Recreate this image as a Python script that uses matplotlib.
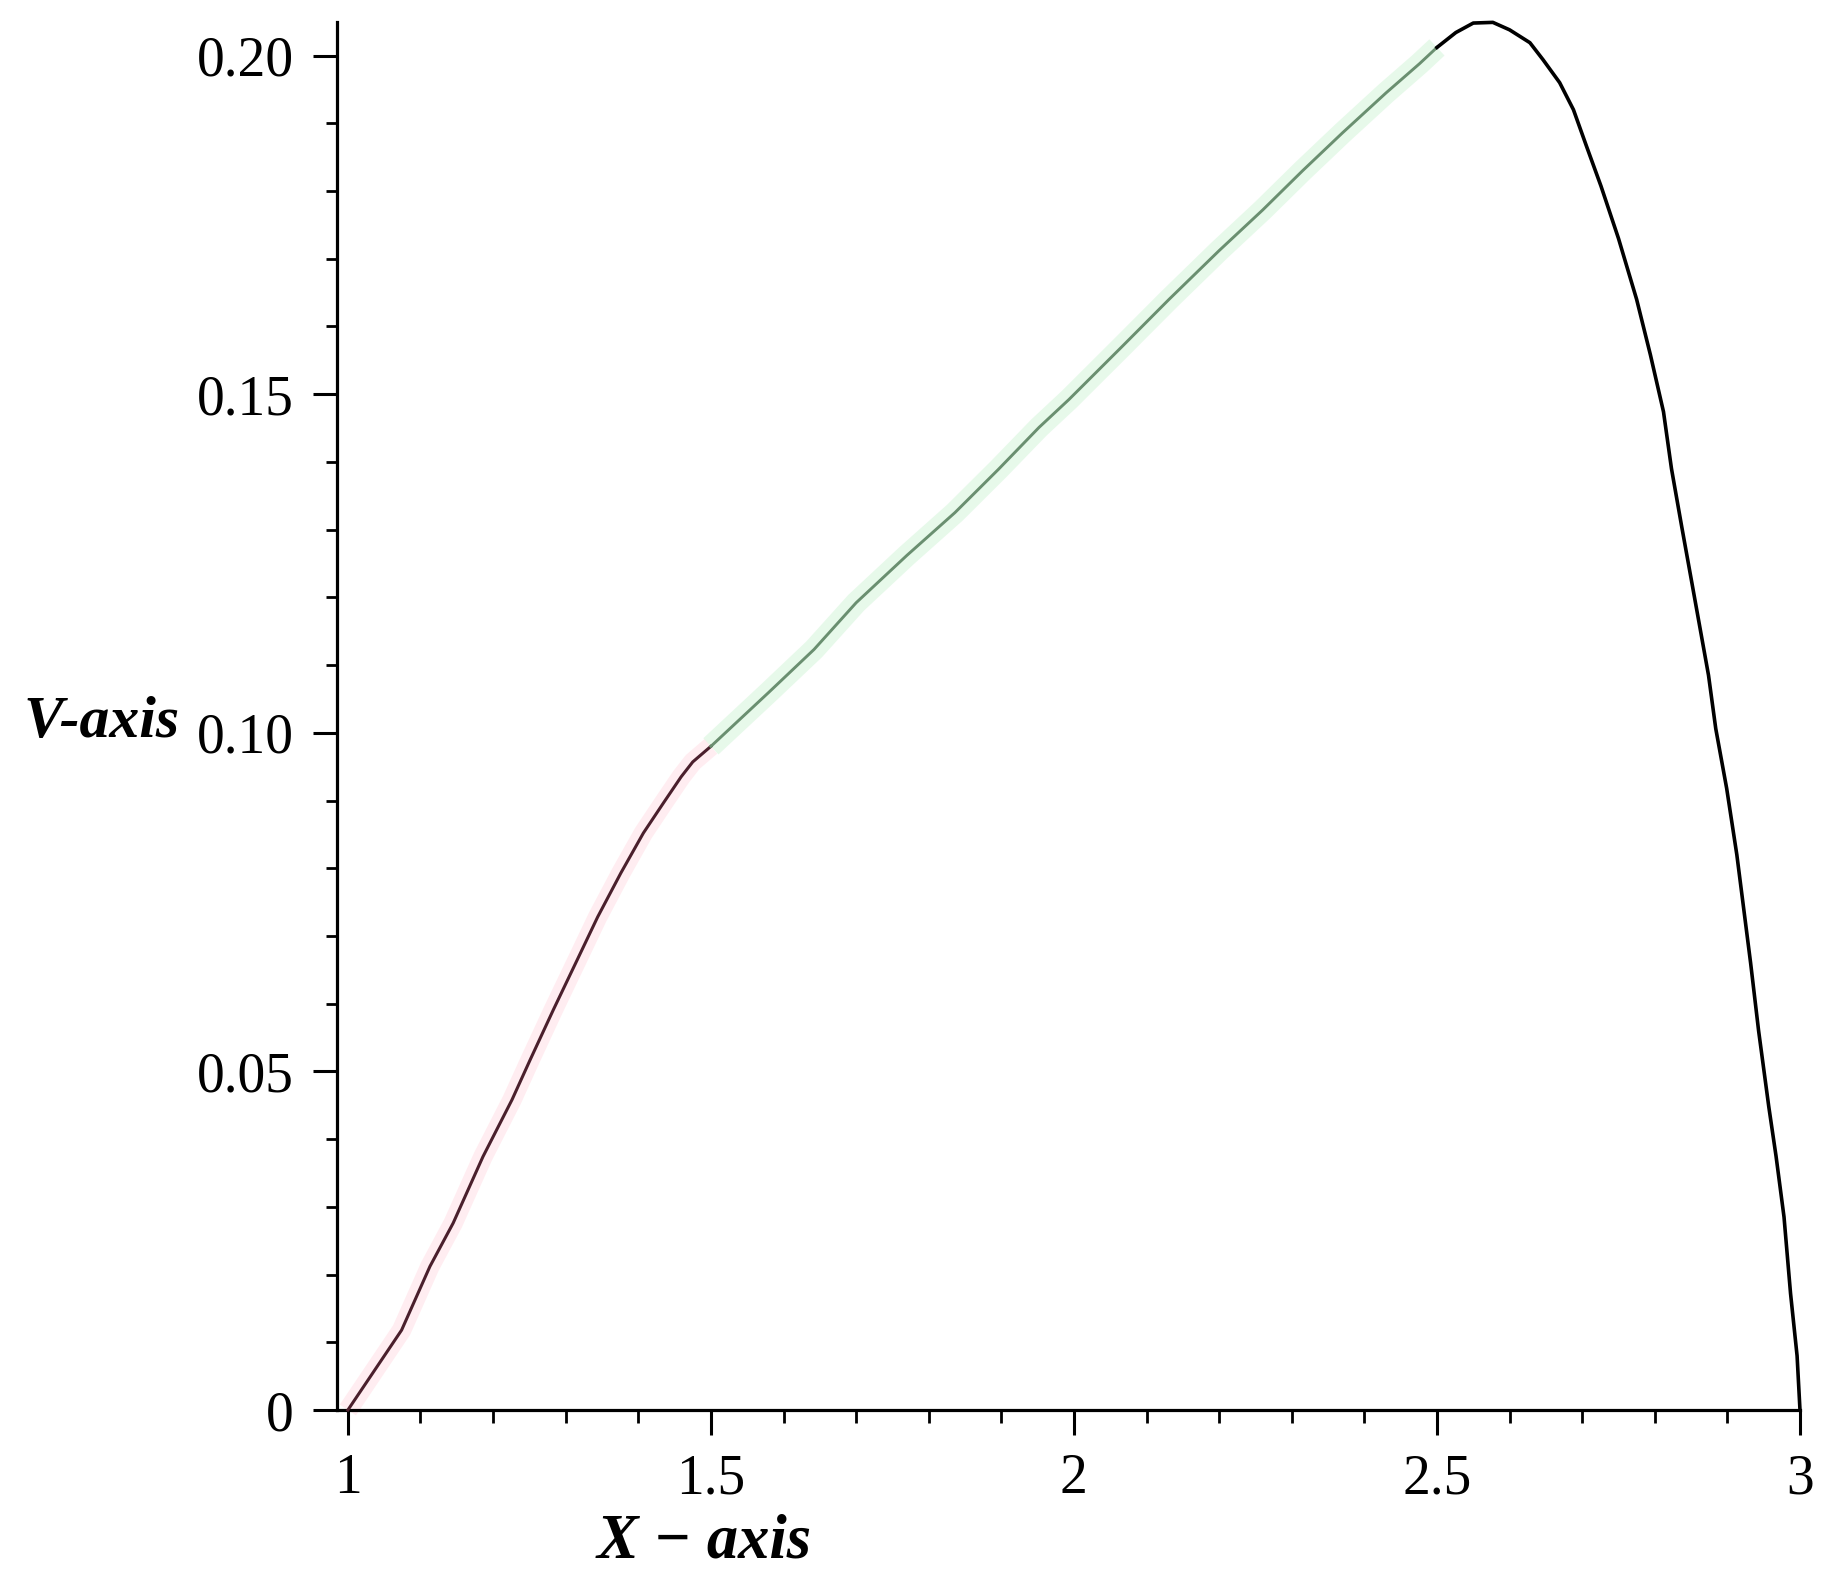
import matplotlib
matplotlib.use("Agg")
import matplotlib.pyplot as plt
from matplotlib.ticker import FixedLocator, MultipleLocator

# --- curve, in three coloured pieces ---

x_red = [1.0, 1.074, 1.113, 1.145, 1.186, 1.226, 1.251, 1.283, 1.316, 1.344,
         1.376, 1.407, 1.435, 1.459, 1.475, 1.5]
y_red = [0.0, 0.0118, 0.0212, 0.0276, 0.0374, 0.0458, 0.0517, 0.0591, 0.0665,
         0.0728, 0.0793, 0.0852, 0.0897, 0.0935, 0.0957, 0.0980]

x_green = [1.5, 1.532, 1.579, 1.642, 1.70, 1.77, 1.836, 1.896, 1.952, 1.993,
           2.066, 2.131, 2.20, 2.26, 2.315, 2.370, 2.430, 2.476, 2.5]
y_green = [0.0980, 0.1012, 0.1059, 0.1123, 0.1192, 0.1262, 0.1325, 0.1389,
           0.1451, 0.1492, 0.1570, 0.1640, 0.1712, 0.1772, 0.1830, 0.1886,
           0.1945, 0.1988, 0.2012]

x_black = [2.5, 2.526, 2.550, 2.577, 2.600, 2.628, 2.646, 2.669, 2.688, 2.706,
           2.726, 2.75, 2.775, 2.794, 2.812, 2.823, 2.837, 2.851, 2.874, 2.884,
           2.899, 2.913, 2.932, 2.943, 2.957, 2.967, 2.978, 2.987, 2.996, 3.0]
y_black = [0.2012, 0.2034, 0.2048, 0.2049, 0.2038, 0.2019, 0.1994, 0.1960,
           0.1920, 0.1866, 0.1807, 0.1730, 0.1640, 0.1558, 0.1474, 0.1390,
           0.1305, 0.1222, 0.1085, 0.1006, 0.0918, 0.0820, 0.0660, 0.0560,
           0.0448, 0.0375, 0.0285, 0.0172, 0.0080, 0.0]

x_ticks = [1, 1.5, 2, 2.5, 3]
x_labels = ["1", "1.5", "2", "2.5", "3"]
y_ticks = [0, 0.05, 0.10, 0.15, 0.20]
y_labels = ["0", "0.05", "0.10", "0.15", "0.20"]

TICK_FONT = ["Liberation Serif", "DejaVu Serif"]
LABEL_FONT = ["Liberation Serif", "DejaVu Serif"]

fig = plt.figure(figsize=(18.3, 15.86), dpi=100)
ax = fig.add_axes([0.18415, 0.11097, 0.79945, 0.87535])

# faint jpeg-like halo under the coloured pieces
ax.plot(x_red, y_red, color="#ffe2e8", lw=14, alpha=0.6, solid_capstyle="butt",
        clip_on=False, zorder=1)
ax.plot(x_green, y_green, color="#d8f6dd", lw=16, alpha=0.6, solid_capstyle="butt",
        clip_on=False, zorder=1)

ax.plot(x_red, y_red, color="#4a1f2c", lw=2.2, clip_on=False, zorder=3)
ax.plot(x_green, y_green, color="#6a8f70", lw=2.1, clip_on=False, zorder=3)
ax.plot(x_black, y_black, color="black", lw=2.6, clip_on=False, zorder=3)

ax.set_xlim(0.985, 3.0)
ax.set_ylim(0, 0.205)

for side in ["top", "right"]:
    ax.spines[side].set_visible(False)
for side in ["left", "bottom"]:
    ax.spines[side].set_linewidth(2.3)

ax.xaxis.set_major_locator(FixedLocator(x_ticks))
ax.set_xticklabels(x_labels)
ax.xaxis.set_minor_locator(MultipleLocator(0.1))
ax.yaxis.set_major_locator(FixedLocator(y_ticks))
ax.set_yticklabels(y_labels)
ax.yaxis.set_minor_locator(MultipleLocator(0.01))

ax.tick_params(axis="x", which="major", length=18, width=2.2, pad=13)
ax.tick_params(axis="x", which="minor", length=9, width=2.0)
ax.tick_params(axis="y", which="major", length=17, width=2.2, pad=14)
ax.tick_params(axis="y", which="minor", length=8, width=2.0)

for lab in ax.get_xticklabels() + ax.get_yticklabels():
    lab.set_family(TICK_FONT)
    lab.set_fontsize(40)

fig.text(0.0126, 0.5353, "V-axis", family=LABEL_FONT, fontsize=43,
         fontweight="bold", fontstyle="italic", ha="left", va="baseline")
fig.text(0.3847, 0.0177, "X \u2212 axis", family=LABEL_FONT, fontsize=45,
         fontweight="bold", fontstyle="italic", ha="center", va="baseline")

fig.savefig("out.png", dpi=100, facecolor="white")
